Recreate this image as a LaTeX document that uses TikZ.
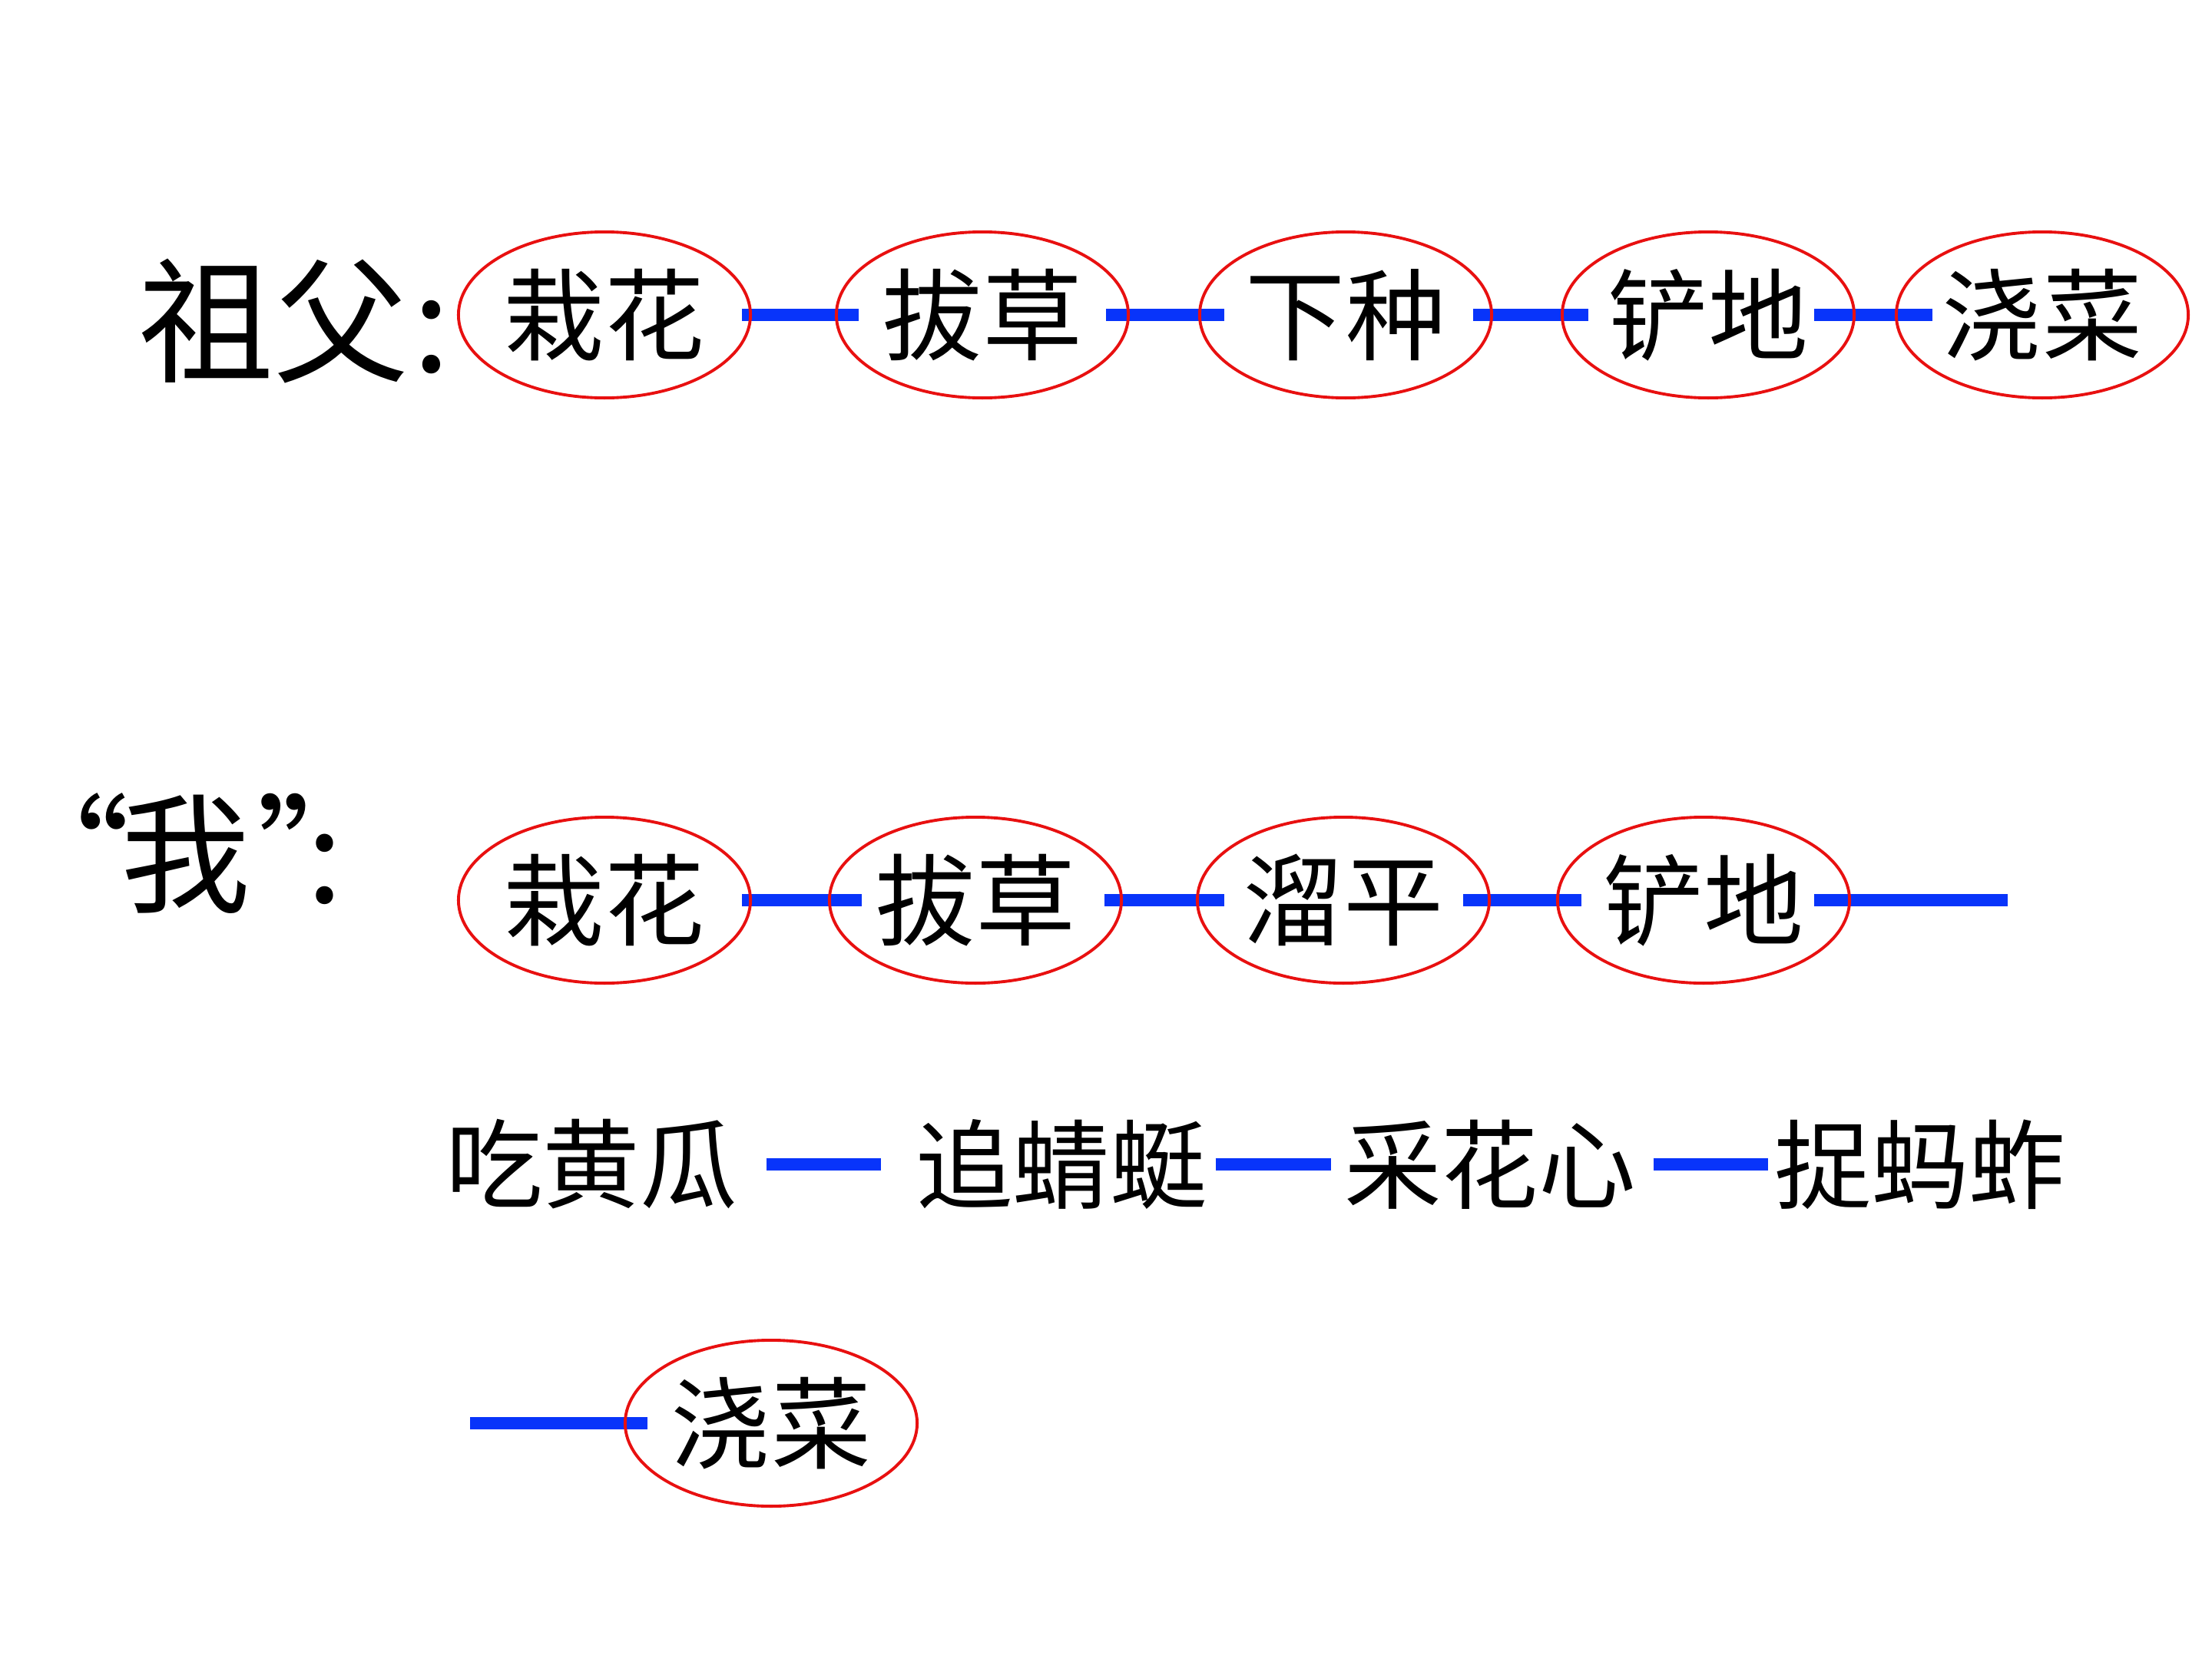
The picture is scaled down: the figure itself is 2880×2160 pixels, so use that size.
\documentclass[tikz,border=0pt]{standalone}
\usepackage{fontspec}
\setmainfont{Noto Sans CJK SC}
\usepackage{tikz}
\usetikzlibrary{shapes,backgrounds}
\definecolor{ovalred}{RGB}{232,16,16}
\definecolor{linkblue}{RGB}{8,52,250}
\newcommand{\choreoval}[3] {\node at (#1) (#2) [chore] {#3};}
\newcommand{\playtext}[3] {\node at (#1) (#2) [playword] {#3};}
\newcommand{\chorelink}[4] {\draw [link] ([xshift=#3]#1.east) -- ([xshift=#4]#2.west);}

\begin{document}
\begin{tikzpicture}[x=0.01cm, y=-0.01cm,
  chore/.style={ellipse, draw=ovalred, line width=1.1pt, minimum width=3.8cm, minimum height=2.16cm, inner sep=0pt, font=\fontsize{37}{40}\selectfont},
  playword/.style={inner sep=0pt, font=\fontsize{36}{40}\selectfont},
  who/.style={inner sep=0pt, anchor=west, font=\fontsize{50}{56}\selectfont},
  link/.style={linkblue, line width=4.8pt}]

\useasboundingbox (0,0) rectangle (2880,2160);

% grandfather
\node at (180,418) (grandpa) [who] {祖父\kern0.03em:};
\choreoval {787,410}{gfA}{栽花};
\choreoval {1279,410}{gfB}{拔草};
\choreoval {1752,410}{gfC}{下种};
\choreoval {2224,410}{gfD}{铲地};
\choreoval {2659,410}{gfE}{浇菜};

% me
\node at (0,1111) (me) [who, font=\fontsize{48}{54}\selectfont] {“\kern-0.07em我\kern0.05em”\kern-0.62em:};
\choreoval {787,1172}{meA}{栽花};
\choreoval {1270,1172}{meB}{拔草};
\choreoval {1749,1172}{meC}{溜平};
\choreoval {2218,1172}{meD}{铲地};
\coordinate (meend) at (2614,1172);

\playtext {770,1516}{eat}{吃黄瓜};
\playtext {1382,1516}{chase}{追蜻蜓};
\playtext {1940,1516}{pick}{采花心};
\playtext {2500,1516}{catch}{捉蚂蚱};

\coordinate (tail) at (612,1853);
\choreoval {1004,1853}{meE}{浇菜};

\begin{scope}[on background layer]
\chorelink{gfA}{gfB}{-0.13cm}{0.31cm};
\chorelink{gfB}{gfC}{-0.31cm}{0.34cm};
\chorelink{gfC}{gfD}{-0.26cm}{0.36cm};
\chorelink{gfD}{gfE}{-0.54cm}{0.49cm};

\chorelink{meA}{meB}{-0.13cm}{0.44cm};
\chorelink{meB}{meC}{-0.24cm}{0.37cm};
\chorelink{meC}{meD}{-0.36cm}{0.33cm};
\draw [link] ([xshift=-0.48cm]meD.east) -- (meend);

\chorelink{eat}{chase}{0.37cm}{-0.44cm};
\chorelink{chase}{pick}{0.10cm}{-0.16cm};
\chorelink{pick}{catch}{0.22cm}{-0.07cm};
\draw [link] (tail) -- ([xshift=0.31cm]meE.west);
\end{scope}

\end{tikzpicture}
\end{document}
